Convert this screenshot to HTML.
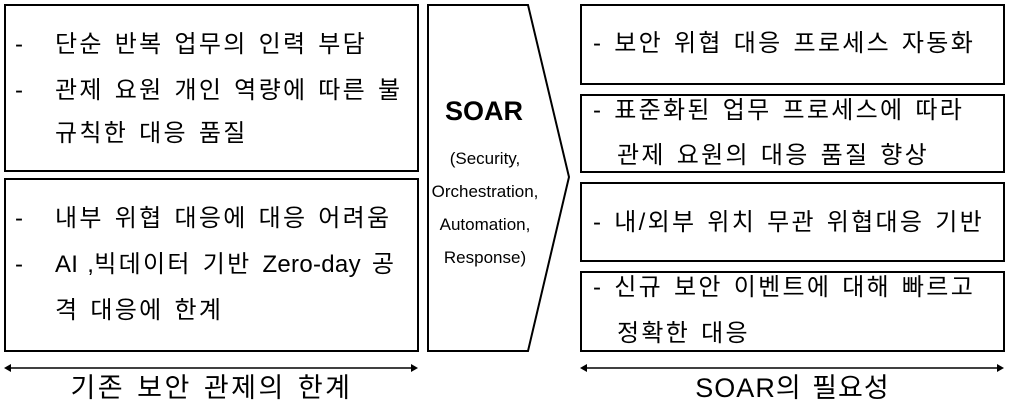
<!DOCTYPE html>
<html><head><meta charset="utf-8"><style>
body{margin:0;width:1009px;height:408px;background:#fff;position:relative;overflow:hidden;font-family:"Liberation Sans","Noto Sans CJK KR",sans-serif;color:#000}
.b{position:absolute;border:2px solid #000;box-sizing:border-box}
.t{position:absolute;font-size:24px;line-height:26px;white-space:nowrap;letter-spacing:2.3px;word-spacing:2px}
.l{letter-spacing:0.3px}
</style></head><body>
<div class="b" style="left:4px;top:4px;width:415px;height:168px"></div>
<div class="b" style="left:4px;top:178px;width:415px;height:174px"></div>
<div class="b" style="left:580px;top:4px;width:425px;height:81px"></div>
<div class="b" style="left:580px;top:94px;width:425px;height:79px"></div>
<div class="b" style="left:580px;top:182px;width:425px;height:80px"></div>
<div class="b" style="left:580px;top:271px;width:425px;height:81px"></div>
<svg style="position:absolute;left:0;top:0" width="1009" height="408">
<polygon points="428,5 528,5 569,177 528,351 428,351" fill="#fff" stroke="#000" stroke-width="2"/>
<g stroke="#000" stroke-width="1.5"><line x1="8" y1="368" x2="414" y2="368"/><line x1="584" y1="368" x2="1000" y2="368"/></g>
<g fill="#000"><polygon points="4,368 11,364 11,372"/><polygon points="418,368 411,364 411,372"/><polygon points="580,368 587,364 587,372"/><polygon points="1004,368 997,364 997,372"/></g>
</svg>
<div class="t" style="left:15px;top:32px">-</div><div class="t" style="left:55px;top:32px">단순 반복 업무의 인력 부담</div>
<div class="t" style="left:15px;top:78px">-</div><div class="t" style="left:55px;top:78px">관제 요원 개인 역량에 따른 불</div>
<div class="t" style="left:55px;top:121px">규칙한 대응 품질</div>
<div class="t" style="left:15px;top:206px">-</div><div class="t" style="left:55px;top:206px">내부 위협 대응에 대응 어려움</div>
<div class="t" style="left:15px;top:252px">-</div><div class="t" style="left:55px;top:252px"><span class="l">AI ,</span>빅데이터 기반 <span class="l">Zero-day</span> 공</div>
<div class="t" style="left:55px;top:298px">격 대응에 한계</div>
<div class="t" style="left:428px;top:96px;width:112px;text-align:center;font-weight:bold;font-size:27px;line-height:30px;letter-spacing:0">SOAR</div>
<div class="t" style="left:420px;top:142px;width:130px;text-align:center;font-size:17px;line-height:33px;letter-spacing:0">(Security,<br>Orchestration,<br>Automation,<br>Response)</div>
<div class="t" style="left:593px;top:31px">- 보안 위협 대응 프로세스 자동화</div>
<div class="t" style="left:593px;top:98px">- 표준화된 업무 프로세스에 따라</div>
<div class="t" style="left:617px;top:143px">관제 요원의 대응 품질 향상</div>
<div class="t" style="left:593px;top:210px">- 내/외부 위치 무관 위협대응 기반</div>
<div class="t" style="left:593px;top:275px">- 신규 보안 이벤트에 대해 빠르고</div>
<div class="t" style="left:617px;top:321px">정확한 대응</div>
<div class="t" style="left:4px;top:372px;width:415px;text-align:center;font-size:27px;line-height:32px;letter-spacing:2.5px">기존 보안 관제의 한계</div>
<div class="t" style="left:580px;top:372px;width:425px;text-align:center;font-size:27px;line-height:32px;letter-spacing:1px">SOAR의 필요성</div>
</body></html>
